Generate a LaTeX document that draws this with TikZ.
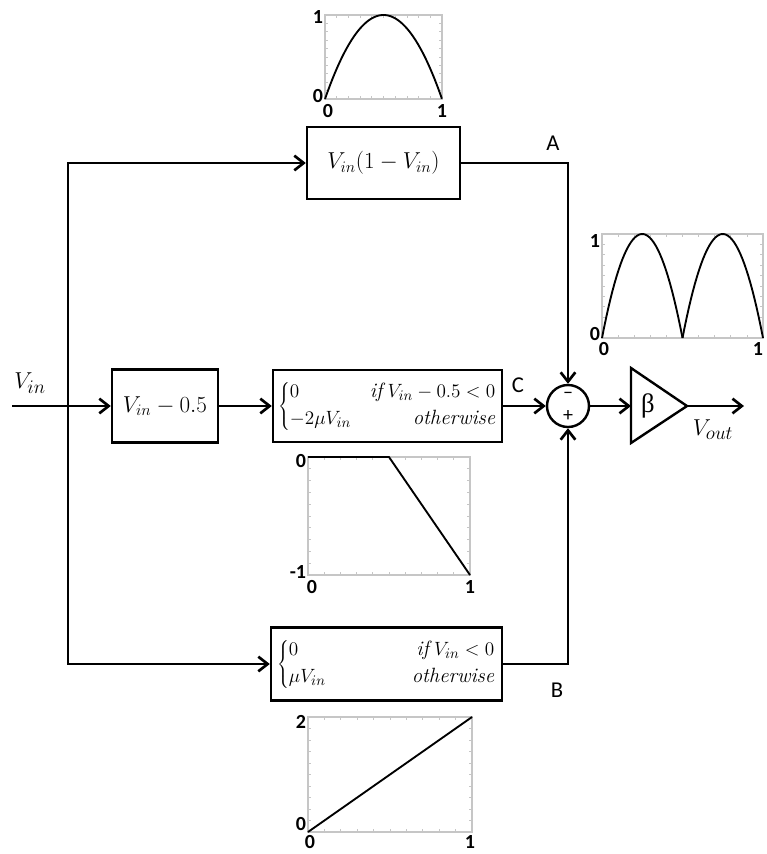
\documentclass[tikz,border=0pt]{standalone}
\usepackage{fontspec}
\usetikzlibrary{arrows.meta}
\newfontfamily\lblfont{Carlito}
\newfontfamily\grkfont{Liberation Serif}
\newcommand\mycases[4]{$\left\{\begin{array}{@{}l@{}}\makebox[44pt][l]{$#1$}\makebox[110pt][r]{$#2$}\\[1pt]\makebox[44pt][l]{$#3$}\makebox[110pt][r]{$#4$}\end{array}\right.$}
\newcommand\plotbox[4]{%
  \draw[frame] (#1,#2) rectangle (#3,#4);
  \foreach \i in {1,...,9}{%
    \draw[tickm] ({#1+(#3-#1)*\i/10},#4) -- ++(0,-3);
    \draw[tickm] ({#1+(#3-#1)*\i/10},#2) -- ++(0,3);
    \draw[tickm] (#1,{#2+(#4-#2)*\i/10}) -- ++(3,0);
    \draw[tickm] (#3,{#2+(#4-#2)*\i/10}) -- ++(-3,0);
  }%
}
\tikzset{
  arr/.style={line width=2pt,-{Straight Barb[length=7pt,width=11pt,line width=2pt]}},
  blk/.style={draw,line width=1.8pt,inner sep=0pt,font=\fontsize{18}{21}\selectfont},
  casefont/.style={font=\fontsize{15.5}{19}\selectfont},
  lbl/.style={font=\lblfont\fontsize{17}{20}\selectfont,inner sep=0pt},
  num/.style={font=\lblfont\bfseries\fontsize{15}{17}\selectfont,inner sep=0.5pt},
  frame/.style={draw=gray!45,line width=0.8pt},
  tickm/.style={draw=gray!45,line width=0.6pt},
  curve/.style={line width=1.4pt,line join=round},
}
\begin{document}
\begin{tikzpicture}[x=0.75pt,y=-0.75pt]
\useasboundingbox (0,0) rectangle (767,854);
\fill[white] (0,0) rectangle (767,854);

% blocks
\node[blk,minimum width=114.75pt,minimum height=54pt] (boxA) at (383.5,163) {$V_{in}(1-V_{in})$};
\node[blk,minimum width=79.5pt,minimum height=54.75pt] (boxS) at (165,406) {$V_{in}-0.5$};
\node[blk,casefont,minimum width=171.75pt,minimum height=54pt] (boxC) at (387.5,406)
  {\mycases{0}{\mathit{if}\;V_{in}-0.5<0}{-2\mu V_{in}}{\mathit{otherwise}}};
\node[blk,casefont,minimum width=173.25pt,minimum height=54.75pt] (boxB) at (386.5,664)
  {\mycases{0}{\mathit{if}\;V_{in}<0}{\mu V_{in}}{\mathit{otherwise}}};
\node[draw,circle,line width=1.8pt,minimum size=31.5pt,inner sep=0pt] (sum) at (568,406) {};
\node[font=\lblfont\fontsize{15}{15}\selectfont,inner sep=0pt] (minus) at (568,395) {–};
\node[font=\lblfont\fontsize{15}{15}\selectfont,inner sep=0pt] (plus) at (568,416) {+};

% amplifier
\coordinate (ampL) at (631,406);
\coordinate (ampR) at (687,406);
\draw[line width=1.8pt,line join=miter] (631,368) -- (ampR) -- (631,443) -- cycle;
\node[font=\grkfont\fontsize{20}{22}\selectfont] (beta) at (648,406) {β};

% coordinates for wires
\coordinate (in) at (12,406);
\coordinate (jct) at (68,406);
\coordinate (out) at (744,406);

% wires
\draw[arr] (in) -- (boxS.west);
\draw[arr] (jct) |- (boxA.west);
\draw[arr] (jct) |- (boxB.west);
\draw[arr] (boxS.east) -- (boxC.west);
\draw[arr] (boxC.east) -- (sum.west);
\draw[arr] (boxA.east) -| (sum.north);
\draw[arr] (boxB.east) -| (sum.south);
\draw[arr] (sum.east) -- (ampL);
\draw[arr] (ampR) -- (out);

% labels
\node[font=\fontsize{19}{22}\selectfont] (vin) at (30,383) {$V_{in}$};
\node[font=\fontsize{19}{22}\selectfont] (vout) at (713,430) {$V_{out}$};
\node[lbl] (lA) at (553,143) {A};
\node[lbl] (lC) at (518,385) {C};
\node[lbl] (lB) at (557,690) {B};

% plot A (top)
\plotbox{325}{15}{442}{99}
\draw[curve] plot[domain=0:1,samples=60] ({325+117*\x},{99-84*4*\x*(1-\x)});
\node[num,anchor=east] (pa1) at (324,17) {1};
\node[num,anchor=east] (pa0) at (324,96) {0};
\node[num] (pax0) at (328,111) {0};
\node[num] (pax1) at (442,111) {1};

% plot sum (right)
\plotbox{602}{234}{763}{338}
\draw[curve] plot[domain=0:0.5,samples=40] ({602+161*\x},{338-104*8*\x*(1-2*\x)});
\draw[curve] plot[domain=0.5:1,samples=40] ({602+161*\x},{338-104*8*(\x-0.5)*(2-2*\x)});
\node[num,anchor=east] (pr1) at (601,241) {1};
\node[num,anchor=east] (pr0) at (601,334) {0};
\node[num] (prx0) at (604,349) {0};
\node[num] (prx1) at (758,349) {1};

% plot C (middle)
\plotbox{308}{457}{470}{575}
\draw[curve] (308,457) -- (389,457) -- (470,575);
\node[num,anchor=east] (pc0) at (307,461) {0};
\node[num,anchor=east] (pcm) at (307,572) {-1};
\node[num] (pcx0) at (312,587) {0};
\node[num] (pcx1) at (470,587) {1};

% plot B (bottom)
\plotbox{308}{717}{472}{832}
\draw[curve] (308,832) -- (472,717);
\node[num,anchor=east] (pb2) at (307,722) {2};
\node[num,anchor=east] (pb0) at (307,824) {0};
\node[num] (pbx0) at (310,842) {0};
\node[num] (pbx1) at (470,842) {1};
\end{tikzpicture}
\end{document}
